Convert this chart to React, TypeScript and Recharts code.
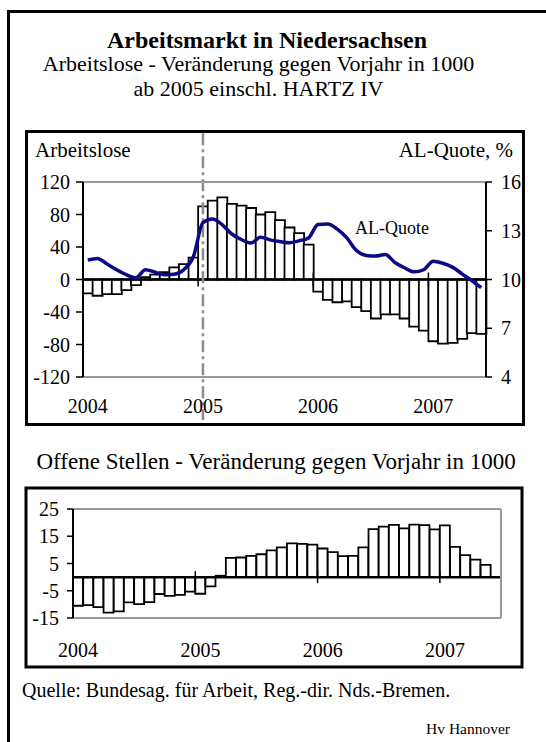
import React from 'react';
import { ComposedChart, Bar, Line, XAxis, YAxis, ReferenceLine } from 'recharts';

const FONT = "'Liberation Serif', 'Times New Roman', serif";

const months = [
  'Jan 04', 'Feb 04', 'Mär 04', 'Apr 04', 'Mai 04', 'Jun 04', 'Jul 04', 'Aug 04', 'Sep 04', 'Okt 04', 'Nov 04', 'Dez 04',
  'Jan 05', 'Feb 05', 'Mär 05', 'Apr 05', 'Mai 05', 'Jun 05', 'Jul 05', 'Aug 05', 'Sep 05', 'Okt 05', 'Nov 05', 'Dez 05',
  'Jan 06', 'Feb 06', 'Mär 06', 'Apr 06', 'Mai 06', 'Jun 06', 'Jul 06', 'Aug 06', 'Sep 06', 'Okt 06', 'Nov 06', 'Dez 06',
  'Jan 07', 'Feb 07', 'Mär 07', 'Apr 07', 'Mai 07', 'Jun 07',
];
const yearTicks = ['Jan 04', 'Jan 05', 'Jan 06', 'Jan 07'];
const yearLabels = ['2004', '2005', '2006', '2007'];

// Arbeitslose, Veränderung gegen Vorjahr (1000)
const arbeitsloseDiff = [
  -17, -20, -18, -18, -13, -7, 3, 6, 9, 15, 19, 27,
  90, 97, 101, 93, 91, 88, 80, 83, 73, 64, 57, 43,
  -15, -25, -28, -27, -34, -39, -48, -43, -43, -48, -58, -63,
  -76, -79, -78, -73, -66, -67,
];
// AL-Quote in %
const alQuote = [
  11.2, 11.3, 10.95, 10.6, 10.3, 10.1, 10.6, 10.45, 10.3, 10.32, 10.6, 11.4,
  13.5, 13.73, 13.38, 12.8, 12.46, 12.24, 12.6, 12.44, 12.34, 12.26, 12.38, 12.56,
  13.38, 13.42, 13.1, 12.56, 11.78, 11.48, 11.44, 11.54, 11.05, 10.72, 10.47, 10.6,
  11.13, 11.0, 10.76, 10.35, 9.94, 9.5,
];
// Offene Stellen, Veränderung gegen Vorjahr (1000)
const offeneStellenDiff = [
  -10.5, -10.3, -11, -13, -12.6, -9.3, -9.9, -9.2, -6.2, -6.9, -6.5, -5.3,
  -6.1, -3.4, 0.5, 7.1, 7.2, 7.8, 8.4, 9.8, 10.9, 12.4, 12.2, 11.9,
  10.5, 9.2, 7.7, 7.8, 10.9, 17.6, 18.5, 19.2, 17.9, 19.3, 19.1, 17.5,
  19.0, 11.1, 8.1, 6.4, 4.5, null,
];

const leftTicks = [-120, -80, -40, 0, 40, 80, 120];
const rightTicks = [4, 7, 10, 13, 16];
const stellenTicks = [-15, -5, 5, 15, 25];

const topData = months.map((m, i) => ({ month: m, al: arbeitsloseDiff[i], quote: alQuote[i] }));
const bottomData = months.map((m, i) => ({ month: m, os: offeneStellenDiff[i] }));

const yearFmt = (v: string) => yearLabels[yearTicks.indexOf(v)] ?? '';
const tickFont = { fill: '#000', fontSize: 20, fontFamily: FONT };
const GRAY = '#9a9a9a';

export default function App() {
  return (
    <div style={{ position: 'absolute', left: 0, top: 0, width: 546, height: 742, background: '#fff', overflow: 'hidden', fontFamily: FONT }}>
      <svg width={546} height={742} style={{ position: 'absolute', left: 0, top: 0 }} fontFamily={FONT}>
        <path d="M8.5 742 L8.5 11.5 L546 11.5" fill="none" stroke="#000" strokeWidth={3} />
        <rect x={26.5} y={131.5} width={497} height={293} fill="none" stroke="#000" strokeWidth={3} />
        <rect x={26} y={488} width={496} height={179} fill="none" stroke="#000" strokeWidth={3} />

        <text x={267} y={48} textAnchor="middle" fontSize={24} fontWeight="bold">Arbeitsmarkt in Niedersachsen</text>
        <text x={258.5} y={71} textAnchor="middle" fontSize={22}>Arbeitslose - Veränderung gegen Vorjahr in 1000</text>
        <text x={258.5} y={96} textAnchor="middle" fontSize={22}>ab 2005 einschl. HARTZ IV</text>

        <text x={35} y={157} fontSize={21}>Arbeitslose</text>
        <text x={513} y={157} textAnchor="end" fontSize={21}>AL-Quote, %</text>
        <text x={355} y={234} fontSize={18}>AL-Quote</text>

        <text x={36.5} y={469} fontSize={23}>Offene Stellen - Veränderung gegen Vorjahr in 1000</text>

        <text x={22} y={697} fontSize={20}>Quelle: Bundesag. für Arbeit, Reg.-dir. Nds.-Bremen.</text>
        <text x={510} y={734} textAnchor="end" fontSize={15.5}>Hv Hannover</text>
      </svg>

      <div style={{ position: 'absolute', left: 0, top: 130 }}>
        <ComposedChart width={546} height={300} data={topData} barCategoryGap={0} margin={{ top: 52, right: 0, bottom: 23, left: 0 }}>
          <XAxis
            dataKey="month"
            ticks={yearTicks}
            interval={0}
            tickFormatter={yearFmt}
            axisLine={false}
            tickLine={false}
            tickSize={0}
            tickMargin={21.5}
            height={30}
            tick={tickFont}
          />
          <YAxis
            yAxisId="l"
            domain={[-120, 120]}
            ticks={leftTicks}
            interval={0}
            width={83}
            tickSize={7}
            tickMargin={6}
            axisLine={{ stroke: '#000', strokeWidth: 2 }}
            tickLine={{ stroke: '#000', strokeWidth: 1.5 }}
            tick={tickFont}
          />
          <YAxis
            yAxisId="r"
            orientation="right"
            domain={[4, 16]}
            ticks={rightTicks}
            interval={0}
            width={60}
            tickSize={6}
            tickMargin={9}
            axisLine={{ stroke: '#000', strokeWidth: 2 }}
            tickLine={{ stroke: '#000', strokeWidth: 1.5 }}
            tick={tickFont}
          />
          <ReferenceLine yAxisId="l" y={120} stroke={GRAY} strokeWidth={2} />
          <ReferenceLine yAxisId="l" y={-120} stroke={GRAY} strokeWidth={2} />
          <Bar yAxisId="l" dataKey="al" fill="#fff" stroke="#000" strokeWidth={1.8} isAnimationActive={false} />
          <ReferenceLine yAxisId="l" y={0} stroke="#000" strokeWidth={2.5} zIndex={350} />
          {yearTicks.slice(1).map((t) => (
            <ReferenceLine
              key={t}
              yAxisId="l"
              position="start"
              segment={[{ x: t, y: 8.6 }, { x: t, y: -8.6 }]}
              stroke="#000"
              strokeWidth={1.5}
              zIndex={350}
            />
          ))}
          <ReferenceLine
            yAxisId="l"
            ifOverflow="visible"
            segment={[{ x: 'Jan 05', y: 180 }, { x: 'Jan 05', y: -173 }]}
            stroke="#8c8c8c"
            strokeWidth={2.5}
            strokeDasharray="12 4 3 4"
            zIndex={360}
          />
          <Line
            yAxisId="r"
            type="monotone"
            dataKey="quote"
            stroke="#0a0a87"
            strokeWidth={3.5}
            dot={false}
            isAnimationActive={false}
          />
        </ComposedChart>
      </div>

      <div style={{ position: 'absolute', left: 0, top: 487 }}>
        <ComposedChart width={546} height={180} data={bottomData} barCategoryGap={0} margin={{ top: 22, right: 45, bottom: 19, left: 0 }}>
          <XAxis
            dataKey="month"
            ticks={yearTicks}
            interval={0}
            tickFormatter={yearFmt}
            axisLine={false}
            tickLine={false}
            tickSize={0}
            tickMargin={24.5}
            height={30}
            tick={tickFont}
          />
          <YAxis
            domain={[-15, 25]}
            ticks={stellenTicks}
            interval={0}
            width={73}
            tickSize={6}
            tickMargin={8}
            axisLine={{ stroke: '#000', strokeWidth: 2 }}
            tickLine={{ stroke: '#000', strokeWidth: 1.5 }}
            tick={tickFont}
          />
          <ReferenceLine y={25} stroke={GRAY} strokeWidth={2} />
          <ReferenceLine y={-15} stroke={GRAY} strokeWidth={2} />
          <ReferenceLine x="Jun 07" position="end" stroke={GRAY} strokeWidth={2} />
          <Bar dataKey="os" fill="#fff" stroke="#000" strokeWidth={1.8} isAnimationActive={false} />
          <ReferenceLine y={0} stroke="#000" strokeWidth={2.5} zIndex={350} />
          {yearTicks.map((t) => (
            <ReferenceLine
              key={t}
              position="start"
              segment={[{ x: t, y: 2.2 }, { x: t, y: -2.2 }]}
              stroke="#000"
              strokeWidth={1.5}
              zIndex={350}
            />
          ))}
        </ComposedChart>
      </div>
    </div>
  );
}
